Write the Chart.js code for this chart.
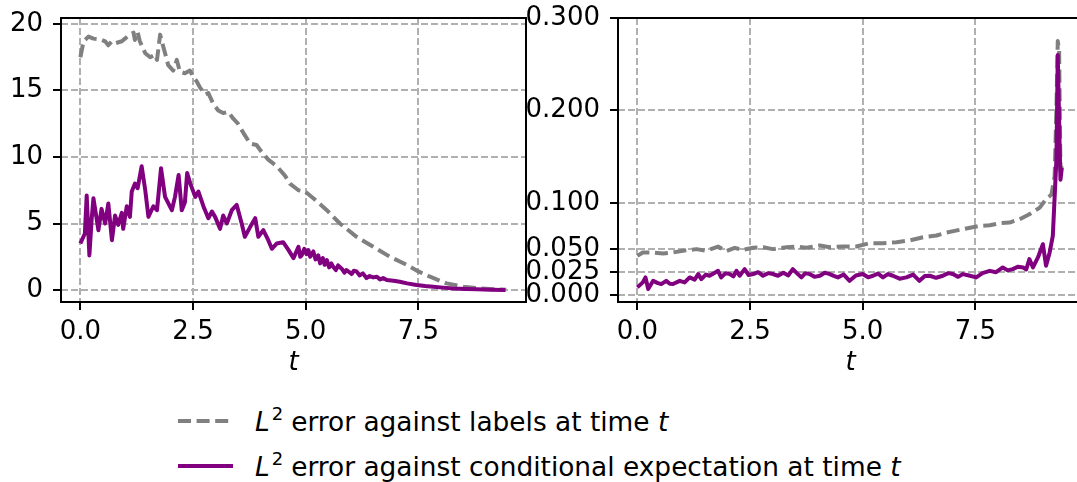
<!DOCTYPE html>
<html>
<head>
<meta charset="utf-8">
<script src="https://cdn.jsdelivr.net/npm/chart.js@4/dist/chart.umd.min.js"></script>
<style>
  html, body { margin: 0; padding: 0; background: #fff; overflow: hidden; width: 1077px; height: 482px; }
  canvas { position: absolute; top: 0; }
  #links { left: 0; }
  #rechts { left: 520px; }
  .zeile { position: absolute; left: 178px; height: 32px; display: flex; align-items: center;
           font-family: "DejaVu Sans", sans-serif; font-size: 26.4px; color: #000; white-space: nowrap; }
  .zeile svg { margin-right: 22px; }
  .hoch { position: relative; top: -11px; font-size: 18px; margin-left: 2px; margin-right: 8px; }
</style>
</head>
<body>
<canvas id="links" width="540" height="400"></canvas>
<canvas id="rechts" width="580" height="400"></canvas>

<div class="zeile" style="top:405px">
  <svg width="55" height="32"><line x1="0" y1="16" x2="55" y2="16" stroke="#808080" stroke-width="4" stroke-dasharray="13 5.6"/></svg>
  <span><i>L</i><span class="hoch">2</span>error against labels at time <i>t</i></span>
</div>
<div class="zeile" style="top:450px">
  <svg width="55" height="32"><line x1="0" y1="16" x2="55" y2="16" stroke="#800080" stroke-width="4"/></svg>
  <span><i>L</i><span class="hoch">2</span>error against conditional expectation at time <i>t</i></span>
</div>

<script>
// tick labels
const xTicks = [0, 2.5, 5, 7.5];
const yTicksLinks = [0, 5, 10, 15, 20];
const yTicksRechts = [0, 0.025, 0.05, 0.1, 0.2, 0.3];

// left panel: L2 error against labels (gray dashed)
const tGrauLinks = [0.00, 0.07, 0.18, 0.29, 0.44, 0.55, 0.62, 0.70, 0.77, 0.92, 0.99, 1.10, 1.18, 1.21, 1.27, 1.32,
  1.44, 1.55, 1.66, 1.70, 1.77, 1.80, 1.88, 1.95, 2.06, 2.14, 2.21, 2.32, 2.43, 2.51, 2.58, 2.66, 2.77, 2.84,
  2.95, 3.06, 3.17, 3.28, 3.39, 3.50, 3.62, 3.77, 3.91, 4.02, 4.17, 4.36, 4.54, 4.65, 4.84, 4.99, 5.17, 5.47,
  5.76, 6.13, 6.50, 6.87, 7.24, 7.50, 7.76, 8.13, 8.50, 8.87, 9.45];
const grauLinks = [17.5, 18.7, 19.05, 18.9, 18.85, 18.7, 18.4, 18.7, 18.55, 18.7, 18.9, 19.2, 19.35, 18.8, 19.4, 18.7,
  17.8, 17.5, 17.7, 17.3, 19.2, 18.8, 17.8, 16.9, 16.5, 17.3, 16.4, 16.3, 16.5, 16.0, 15.7, 15.2, 14.7, 14.8,
  14.0, 13.5, 13.3, 13.4, 12.9, 12.5, 11.8, 11.0, 10.9, 10.4, 9.8, 9.3, 8.6, 8.0, 7.5, 7.4, 6.9, 6.0,
  5.0, 4.0, 3.25, 2.5, 1.9, 1.4, 1.0, 0.5, 0.25, 0.12, 0.02];

// left panel: L2 error against conditional expectation (purple)
const tLilaLinks = [0.00, 0.10, 0.14, 0.20, 0.25, 0.29, 0.40, 0.47, 0.55, 0.62, 0.70, 0.77, 0.84, 0.92, 0.95, 1.03,
  1.10, 1.14, 1.21, 1.27, 1.36, 1.44, 1.51, 1.62, 1.70, 1.79, 1.88, 2.03, 2.10, 2.18, 2.25, 2.32, 2.37, 2.44,
  2.55, 2.62, 2.73, 2.84, 2.92, 2.99, 3.10, 3.17, 3.25, 3.36, 3.47, 3.58, 3.65, 3.77, 3.88, 3.95, 4.06, 4.17,
  4.25, 4.36, 4.50, 4.62, 4.73, 4.84, 4.88, 4.91, 4.97, 5.02, 5.06, 5.10, 5.17, 5.22, 5.28, 5.32, 5.38, 5.42,
  5.47, 5.52, 5.57, 5.61, 5.67, 5.72, 5.80, 5.86, 5.90, 5.95, 6.02, 6.07, 6.13, 6.20, 6.27, 6.35, 6.42, 6.50,
  6.58, 6.65, 6.72, 6.80, 6.95, 7.09, 7.25, 7.46, 7.65, 7.83, 8.05, 8.28, 8.55, 8.80, 9.10, 9.43];
const lilaLinks = [3.5, 4.25, 7.1, 2.6, 5.3, 6.9, 4.5, 6.1, 5.0, 6.5, 3.75, 5.6, 4.9, 5.8, 4.6, 6.3,
  5.5, 7.4, 8.0, 7.65, 9.3, 7.5, 5.5, 6.3, 6.0, 9.15, 7.0, 6.0, 7.0, 8.65, 6.0, 6.6, 8.8, 8.0,
  7.0, 7.4, 6.3, 5.4, 5.9, 5.5, 4.6, 5.6, 5.0, 6.0, 6.4, 5.0, 4.0, 4.75, 5.4, 4.0, 4.5, 3.75,
  3.1, 3.5, 3.6, 3.0, 2.4, 3.25, 2.5, 2.6, 3.1, 2.7, 3.0, 2.5, 2.9, 2.3, 2.6, 2.0, 2.4, 1.9,
  2.25, 1.7, 2.0, 1.75, 1.5, 1.85, 1.6, 1.3, 1.5, 1.4, 1.2, 1.45, 1.4, 1.1, 1.25, 0.9, 1.05, 0.95,
  1.0, 0.8, 0.9, 0.75, 0.7, 0.62, 0.5, 0.38, 0.3, 0.25, 0.18, 0.12, 0.08, 0.05, 0.02, 0.0];

// right panel
const tGrauRechts = [0.00, 0.12, 0.35, 0.57, 0.79, 1.01, 1.31, 1.53, 1.79, 1.97, 2.16, 2.34, 2.57, 2.79, 3.01, 3.31,
  3.53, 3.75, 4.05, 4.27, 4.56, 4.86, 5.15, 5.45, 5.75, 6.04, 6.34, 6.64, 6.86, 7.22, 7.59, 7.82, 8.04, 8.26,
  8.48, 8.70, 8.93, 9.07, 9.19, 9.26, 9.30, 9.33, 9.36, 9.39, 9.42];
const grauRechts = [0.0427, 0.0464, 0.0464, 0.0453, 0.0464, 0.0482, 0.050, 0.0482, 0.0528, 0.0478, 0.0514, 0.0492,
  0.0514, 0.0521, 0.050, 0.0521, 0.0528, 0.0514, 0.0539, 0.0521, 0.0528, 0.0528, 0.0564, 0.0564, 0.0575, 0.0593,
  0.0629, 0.0647, 0.068, 0.0715, 0.0751, 0.0758, 0.078, 0.0787, 0.0823, 0.0877, 0.0949, 0.104, 0.109, 0.129,
  0.201, 0.275, 0.265, 0.135, 0.14];

const tLilaRechts = [0.00, 0.12, 0.18, 0.24, 0.35, 0.44, 0.53, 0.64, 0.72, 0.79, 0.94, 1.05, 1.16, 1.27, 1.35, 1.42,
  1.52, 1.60, 1.70, 1.79, 1.86, 1.96, 2.05, 2.13, 2.20, 2.27, 2.38, 2.47, 2.57, 2.68, 2.79, 2.90, 3.01, 3.12,
  3.24, 3.35, 3.45, 3.55, 3.64, 3.73, 3.82, 3.93, 4.05, 4.16, 4.27, 4.36, 4.45, 4.58, 4.71, 4.85, 5.00, 5.12,
  5.23, 5.34, 5.45, 5.56, 5.67, 5.82, 5.97, 6.12, 6.26, 6.38, 6.49, 6.63, 6.78, 6.90, 7.00, 7.12, 7.22, 7.36,
  7.52, 7.66, 7.82, 7.96, 8.11, 8.22, 8.33, 8.45, 8.56, 8.63, 8.70, 8.78, 8.89, 9.00, 9.07, 9.15, 9.22,
  9.30, 9.33, 9.37, 9.39, 9.42];
const lilaRechts = [0.0086, 0.014, 0.0194, 0.0068, 0.0157, 0.0135, 0.0122, 0.0157, 0.0125, 0.0122, 0.0157, 0.0140,
  0.0194, 0.0170, 0.023, 0.0176, 0.0225, 0.0212, 0.0240, 0.0265, 0.0194, 0.0240, 0.023, 0.0205, 0.0265, 0.0212,
  0.0284, 0.0220, 0.023, 0.0250, 0.0212, 0.0240, 0.023, 0.0212, 0.0245, 0.0215, 0.0284, 0.0235, 0.0194, 0.0240,
  0.023, 0.0200, 0.0212, 0.0245, 0.023, 0.0210, 0.0194, 0.0225, 0.0157, 0.0215, 0.023, 0.0195, 0.0212, 0.0235,
  0.0194, 0.0230, 0.0212, 0.0180, 0.0194, 0.0225, 0.0157, 0.0210, 0.0212, 0.0190, 0.0212, 0.0240, 0.023, 0.0200,
  0.023, 0.0215, 0.0194, 0.0240, 0.0265, 0.0250, 0.0302, 0.0270, 0.0284, 0.0310, 0.0302, 0.0280, 0.0392, 0.0302,
  0.041, 0.0553, 0.032, 0.0464, 0.0643, 0.147, 0.26, 0.165, 0.125, 0.138];

const schrift = "'DejaVu Sans', sans-serif";

function punkte(ts, werte) {
  return ts.map((t, i) => ({ x: t, y: werte[i] }));
}

// black frame round the plot area (matplotlib spines)
const rahmen = {
  id: 'rahmen',
  afterDraw(chart) {
    const { ctx, chartArea: a } = chart;
    ctx.save();
    ctx.strokeStyle = '#000';
    ctx.lineWidth = 2;
    ctx.strokeRect(a.left, a.top, a.right - a.left, a.bottom - a.top);
    ctx.restore();
  }
};

function gitter() {
  return { color: '#b0b0b0', lineWidth: 2, tickColor: '#000', tickWidth: 2, tickLength: 8 };
}

function zeichne(id, lila, grau, yMin, yMax, yTicks, yStellen, yBreite, rechtsPad) {
  new Chart(document.getElementById(id), {
    type: 'line',
    data: {
      datasets: [
        { data: lila, borderColor: '#800080', borderWidth: 4, pointRadius: 0, tension: 0, borderJoinStyle: 'round' },
        { data: grau, borderColor: '#808080', borderWidth: 4, pointRadius: 0, tension: 0, borderDash: [13, 5.6], borderJoinStyle: 'round' }
      ]
    },
    options: {
      responsive: false,
      animation: false,
      layout: { padding: { top: 18, left: 0, right: rechtsPad, bottom: 18 } },
      plugins: { legend: { display: false }, tooltip: { enabled: false } },
      scales: {
        x: {
          type: 'linear', min: -0.43, max: 9.89,
          afterBuildTicks: s => { s.ticks = xTicks.map(v => ({ value: v })); },
          afterFit: s => { s.height = 80; s.paddingLeft = 0; s.paddingRight = 0; },
          ticks: { callback: v => v.toFixed(1), color: '#000', font: { family: schrift, size: 26 }, padding: 7, maxRotation: 0, autoSkip: false },
          grid: gitter(),
          border: { display: false, dash: [7, 3] },
          title: { display: true, text: 't', color: '#000', font: { family: schrift, size: 26, style: 'italic' }, padding: { top: 0, bottom: 3 } }
        },
        y: {
          min: yMin, max: yMax,
          afterBuildTicks: s => { s.ticks = yTicks.map(v => ({ value: v })); },
          afterFit: s => { s.width = yBreite; s.paddingTop = 0; s.paddingBottom = 0; },
          ticks: { callback: v => v.toFixed(yStellen), color: '#000', font: { family: schrift, size: 26 }, padding: 10, autoSkip: false },
          grid: gitter(),
          border: { display: false, dash: [7, 3] }
        }
      }
    },
    plugins: [rahmen]
  });
}

zeichne('links', punkte(tLilaLinks, lilaLinks), punkte(tGrauLinks, grauLinks), -0.9, 20.45, yTicksLinks, 0, 61, 14);
zeichne('rechts', punkte(tLilaRechts, lilaRechts), punkte(tGrauRechts, grauRechts), -0.0072, 0.3, yTicksRechts, 3, 98, 17);
</script>
</body>
</html>
